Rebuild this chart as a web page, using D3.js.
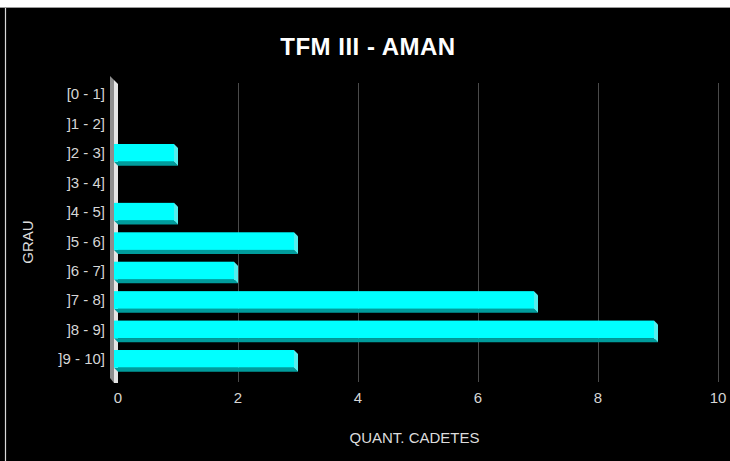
<!DOCTYPE html>
<html>
<head>
<meta charset="utf-8">
<script src="https://cdn.jsdelivr.net/npm/d3@7/dist/d3.min.js"></script>
<style>
  html, body { margin: 0; padding: 0; background: #000; }
  svg { display: block; }
</style>
</head>
<body>
<script>
// Grade intervals and number of cadets in each
const categories = ["[0 - 1]", "]1 - 2]", "]2 - 3]", "]3 - 4]", "]4 - 5]", "]5 - 6]", "]6 - 7]", "]7 - 8]", "]8 - 9]", "]9 - 10]"];
const values = [0, 0, 1, 0, 1, 3, 2, 7, 9, 3];
const xTicks = [0, 2, 4, 6, 8, 10];
const titleText = "TFM III - AMAN";
const xTitle = "QUANT. CADETES";
const yTitle = "GRAU";

const W = 730, H = 461;
const depth = 4;            // 3D offset of bar faces
const font = "'Liberation Sans', Arial, sans-serif";

const svg = d3.select("body").append("svg").attr("width", W).attr("height", H);

// page frame: white strip at top, thin vertical rule on the left
svg.append("rect").attr("x", 0).attr("y", 0).attr("width", W).attr("height", H).attr("fill", "#000");
svg.append("rect").attr("x", 0).attr("y", 0).attr("width", W).attr("height", 7).attr("fill", "#fff");
svg.append("line").attr("x1", 0).attr("x2", W).attr("y1", 7.5).attr("y2", 7.5).attr("stroke", "#9a9a9a");
svg.append("line").attr("x1", 5.5).attr("x2", 5.5).attr("y1", 8).attr("y2", H).attr("stroke", "#d8d8d8").attr("stroke-width", 1.2);

const x = d3.scaleLinear().domain([0, 10]).range([118, 718]);
const y = d3.scaleBand().domain(categories).range([83.25, 377.55]).paddingInner(0.4).paddingOuter(0.2);

const plotTop = 83, plotBottom = 382;

// vertical gridlines on the back plane
svg.append("g").selectAll("line").data(xTicks.filter(t => t > 0)).join("line")
  .attr("x1", d => x(d) + 0.5).attr("x2", d => x(d) + 0.5)
  .attr("y1", plotTop).attr("y2", plotBottom)
  .attr("stroke", "#4a4a4a").attr("stroke-width", 1);

// left wall of the 3D plot
const x0 = x(0);
const wall = svg.append("g");
wall.append("polygon")
  .attr("points", [[x0 - 8, plotTop - 7], [x0 - 4, plotTop - 3], [x0 - 4, plotBottom + 1], [x0 - 8, plotBottom - 4]].map(p => p.join(",")).join(" "))
  .attr("fill", "#8e8e8e");
wall.append("polygon")
  .attr("points", [[x0 - 4, plotTop - 3], [x0, plotTop + 1], [x0, plotBottom + 1], [x0 - 4, plotBottom + 1]].map(p => p.join(",")).join(" "))
  .attr("fill", "#e4e4e4");

// bars: front face shifted up-left by depth, right and bottom faces visible
const bars = svg.append("g").selectAll("g")
  .data(categories.map((c, i) => ({ c, v: values[i] })).filter(d => d.v > 0))
  .join("g");

bars.append("polygon") // bottom face
  .attr("points", d => {
    const a = x(0), b = x(d.v), yb = y(d.c) + y.bandwidth();
    return [[a - depth, yb - depth], [b - depth, yb - depth], [b, yb], [a, yb]].map(p => p.join(",")).join(" ");
  })
  .attr("fill", "#009c9c");
bars.append("polygon") // right face
  .attr("points", d => {
    const b = x(d.v), yt = y(d.c), yb = yt + y.bandwidth();
    return [[b - depth, yt - depth], [b, yt], [b, yb], [b - depth, yb - depth]].map(p => p.join(",")).join(" ");
  })
  .attr("fill", "#52eeee");
bars.append("rect") // front face
  .attr("x", d => x(0) - depth)
  .attr("y", d => y(d.c) - depth)
  .attr("width", d => x(d.v) - x(0))
  .attr("height", y.bandwidth())
  .attr("fill", "#00ffff");

// category labels
svg.append("g").selectAll("text").data(categories).join("text")
  .attr("x", 105)
  .attr("y", d => y(d) - depth + y.bandwidth() / 2)
  .attr("dy", "0.36em")
  .attr("text-anchor", "end")
  .attr("font-family", font).attr("font-size", 15)
  .attr("fill", "#d6d6d6")
  .text(d => d);

// value axis tick labels
svg.append("g").selectAll("text").data(xTicks).join("text")
  .attr("x", d => x(d))
  .attr("y", 403)
  .attr("text-anchor", "middle")
  .attr("font-family", font).attr("font-size", 15)
  .attr("fill", "#d6d6d6")
  .text(d => d);

// titles
svg.append("text")
  .attr("x", 368).attr("y", 55)
  .attr("text-anchor", "middle")
  .attr("font-family", font).attr("font-size", 24).attr("font-weight", "bold")
  .attr("letter-spacing", 0.5)
  .attr("fill", "#fff")
  .text(titleText);

svg.append("text")
  .attr("x", 414.5).attr("y", 443)
  .attr("text-anchor", "middle")
  .attr("font-family", font).attr("font-size", 15)
  .attr("fill", "#dcdcdc")
  .text(xTitle);

svg.append("text")
  .attr("transform", "translate(33,242) rotate(-90)")
  .attr("text-anchor", "middle")
  .attr("font-family", font).attr("font-size", 15)
  .attr("fill", "#dcdcdc")
  .text(yTitle);
</script>
</body>
</html>
